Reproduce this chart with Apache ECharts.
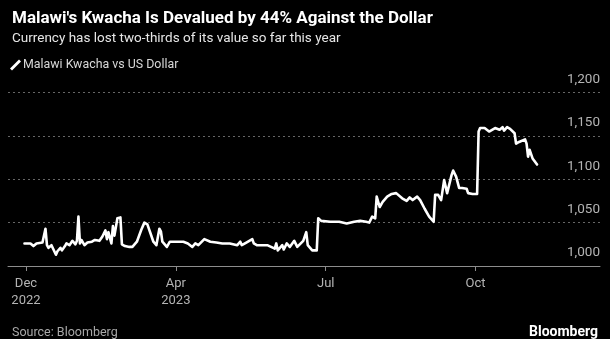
<!DOCTYPE html>
<html>
<head>
<meta charset="utf-8">
<script src="https://cdn.jsdelivr.net/npm/echarts@6/dist/echarts.min.js"></script>
<style>
  html, body { margin: 0; padding: 0; background: #000; }
  #chart { width: 610px; height: 339px; }
</style>
</head>
<body>
<div id="chart"></div>
<script>
// Position along the time axis: 0 = Dec 2022 tick, 100 units per quarter tick
const timePos = [
  -1, 3, 5, 7, 11, 12, 13, 14, 15, 17, 20, 21, 23, 24, 26, 27, 29, 31, 33, 34,
  35, 36, 37, 39, 41, 44, 46, 49, 51, 53, 54, 55, 56, 57, 58, 59, 61, 63, 64, 66,
  69, 71, 74, 77, 79, 81, 83, 85, 87, 89, 90, 91, 94, 95, 96, 101, 105, 108, 111, 113,
  115, 119, 123, 127, 131, 136, 141, 143, 144, 147, 151, 152, 154, 158, 161, 166, 167, 168, 171, 172,
  174, 176, 179, 181, 185, 187, 188, 189, 191, 194, 195, 197, 203, 209, 214, 219, 223, 227, 229, 231,
  233, 234, 235, 236, 238, 241, 244, 247, 248, 251, 254, 256, 258, 261, 263, 266, 269, 272, 273, 275,
  277, 279, 281, 284, 285, 287, 289, 291, 294, 295, 298, 301, 302, 303, 304, 306, 309, 313, 316, 318,
  319, 321, 323, 324, 326, 327, 328, 329, 333, 334, 335, 336, 338, 341
];

// Malawi kwacha per US dollar
const kwachaPerUsd = [
  1026, 1026, 1023, 1026, 1027, 1027, 1043, 1024, 1021, 1024, 1013, 1017, 1021, 1018, 1023, 1026, 1024, 1029, 1025, 1029,
  1057, 1026, 1030, 1024, 1027, 1028, 1030, 1029, 1034, 1041, 1031, 1039, 1037, 1026, 1046, 1035, 1055, 1056, 1025, 1023,
  1022, 1022, 1028, 1042, 1050, 1048, 1038, 1028, 1024, 1043, 1040, 1028, 1022, 1020, 1028, 1028, 1028, 1026, 1022, 1026,
  1024, 1031, 1028, 1027, 1026, 1026, 1024, 1028, 1024, 1027, 1031, 1026, 1024, 1024, 1024, 1020, 1026, 1018, 1024, 1019,
  1026, 1022, 1029, 1022, 1029, 1039, 1024, 1022, 1018, 1018, 1055, 1052, 1051, 1051, 1049, 1051, 1052, 1051, 1050, 1057,
  1055, 1080, 1082, 1068, 1074, 1080, 1083, 1084, 1083, 1078, 1075, 1079, 1076, 1080, 1076, 1066, 1057, 1051, 1082, 1082,
  1076, 1099, 1084, 1105, 1110, 1103, 1090, 1090, 1089, 1084, 1083, 1083, 1155, 1159, 1161, 1159, 1155, 1159, 1157, 1160,
  1156, 1160, 1158, 1157, 1153, 1141, 1139, 1143, 1146, 1141, 1126, 1134, 1124, 1117
];

const xTickPos = [0, 100, 200, 300];
const xTickLabels = ['Dec\n2022', 'Apr\n2023', 'Jul', 'Oct'];

const FONT = 'Roboto, "Liberation Sans", sans-serif';

const seriesData = timePos.map((t, i) => [t, kwachaPerUsd[i]]);

const chart = echarts.init(document.getElementById('chart'), null, { renderer: 'canvas' });

chart.setOption({
  backgroundColor: '#000',
  animation: false,
  textStyle: { fontFamily: FONT },
  title: [
    {
      text: "Malawi's Kwacha Is Devalued by 44% Against the Dollar",
      left: 7, top: 5,
      textStyle: { color: '#fff', fontSize: 17, fontWeight: 'bold', fontFamily: FONT }
    },
    {
      text: 'Currency has lost two-thirds of its value so far this year',
      left: 7, top: 27,
      textStyle: { color: '#e6e6e6', fontSize: 13.5, fontWeight: 'normal', fontFamily: FONT }
    },
    {
      text: 'Source: Bloomberg',
      left: 7, top: 321,
      textStyle: { color: '#a8a8a8', fontSize: 12.5, fontWeight: 'normal', fontFamily: FONT }
    },
    {
      text: 'Bloomberg',
      right: 7, top: 320,
      textStyle: { color: '#fff', fontSize: 14, fontWeight: 'bold', fontFamily: FONT }
    }
  ],
  legend: {
    left: 5, top: 54,
    itemWidth: 11, itemHeight: 14, itemGap: 5,
    icon: 'path://M9,0 L11,2 L2,11 L0,9 Z',
    textStyle: { color: '#d8d8d8', fontSize: 12.4, fontFamily: FONT, padding: [0, 0, 0, -3] },
    data: ['Malawi Kwacha vs US Dollar']
  },
  grid: { left: 8, right: 10, top: 92.5, bottom: 73, containLabel: false },
  xAxis: {
    type: 'value',
    min: -12, max: 383,
    splitLine: { show: false },
    axisLine: { show: true, lineStyle: { color: '#8c8c8c', width: 1 } },
    axisTick: { show: true, customValues: xTickPos, length: 5, lineStyle: { color: '#8c8c8c' } },
    axisLabel: {
      customValues: xTickPos,
      formatter: v => xTickLabels[xTickPos.indexOf(v)] || '',
      color: '#b4b4b4', fontSize: 13, lineHeight: 17, margin: 9, fontFamily: FONT
    }
  },
  yAxis: {
    type: 'value',
    position: 'right',
    min: 1000, max: 1200, interval: 50,
    axisLine: { show: false },
    axisTick: { show: false },
    splitLine: { show: true, lineStyle: { color: '#666', type: [2, 3], width: 1 } },
    axisLabel: {
      inside: true, margin: 0,
      verticalAlign: 'bottom',
      padding: [0, 0, 6, 0],
      color: '#b4b4b4', fontSize: 13.5, fontFamily: FONT,
      formatter: v => v.toLocaleString('en-US')
    }
  },
  series: [{
    name: 'Malawi Kwacha vs US Dollar',
    type: 'line',
    data: seriesData,
    showSymbol: false,
    symbol: 'none',
    lineStyle: { color: '#fff', width: 2.6, join: 'round', cap: 'round' },
    itemStyle: { color: '#fff' }
  }]
});
</script>
</body>
</html>
